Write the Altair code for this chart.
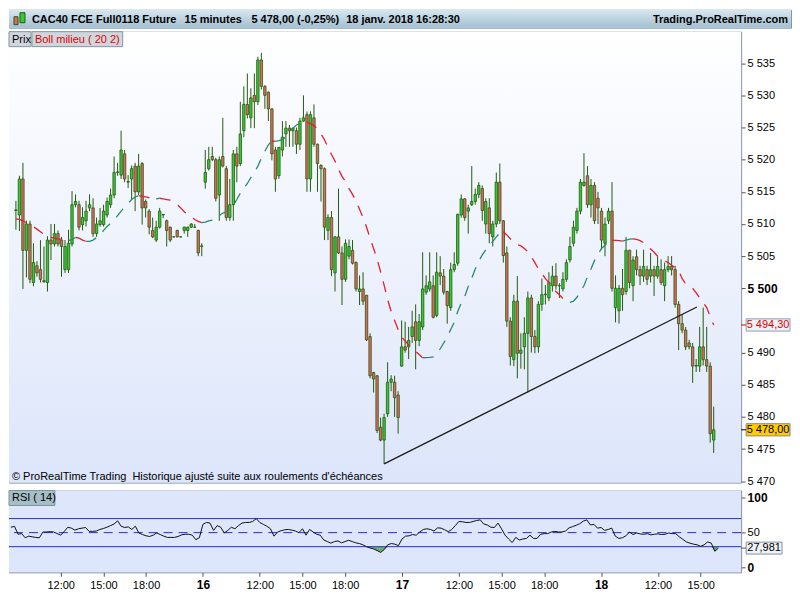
import altair as alt
import pandas as pd

# ---------------- data ----------------
opens = [
 5512.1,5511.4,5517.0,5505.9,5510.0,5500.9,5503.5,5502.9,5501.2,5500.9,
 5507.5,5506.9,5508.5,5507.5,5502.9,5502.9,5506.9,5513.0,5513.0,5509.9,
 5510.5,5512.5,5512.5,5508.5,5509.9,5509.9,5511.4,5513.0,5514.5,5518.0,
 5517.6,5520.9,5516.6,5517.0,5519.0,5515.0,5519.4,5513.5,5512.0,5509.0,
 5507.5,5509.5,5511.4,5510.5,5509.5,5508.0,5509.0,5508.0,5509.0,5509.0,
 5509.5,5509.5,5509.0,5506.5,
 5516.5,5518.6,5520.5,5520.0,5514.5,5520.5,5518.6,5511.0,5513.0,5520.9,
 5519.4,5524.5,5528.6,5526.5,5530.0,5529.0,5535.5,5531.4,5530.5,5527.9,
 5521.5,5517.5,5521.5,5524.0,5524.9,5524.5,5524.5,5522.4,5526.0,5527.0,
 5517.0,5526.5,5522.4,5519.1,5518.6,5509.0,5511.0,5502.4,5508.0,5505.5,
 5501.4,5505.0,5505.9,5504.0,5499.5,5499.9,5498.9,5492.5,5486.9,5486.4,
 5478.4,5476.4,5480.5,5485.4,5485.4,5483.4,
 5487.9,5490.9,5490.9,5492.5,5494.8,5491.9,5494.0,5499.4,5499.9,5500.4,
 5495.8,5502.4,5501.9,5499.5,5497.0,5502.9,5503.9,5511.4,5513.9,5512.0,
 5513.0,5513.5,5514.6,5515.5,5510.0,5512.5,5508.0,5510.0,5516.5,5510.5,
 5505.5,5494.9,5488.9,5498.0,5489.9,5490.9,5493.0,5498.5,5492.5,5490.9,
 5497.5,5499.0,5498.5,5500.4,5501.9,5500.4,5499.9,5501.4,5504.4,5507.0,
 5509.0,5512.0,5516.0,5517.5,5513.0,5516.0,
 5514.0,5512.0,5507.0,5510.5,5512.0,5497.0,5496.5,5500.0,5499.5,5505.9,
 5500.4,5504.9,5502.9,5501.9,5502.9,5501.9,5502.9,5501.9,5502.9,5500.4,
 5502.9,5503.4,5502.9,5497.5,5494.5,5493.5,5491.5,5490.9,5487.9,5487.9,
 5490.9,5488.9,5487.9,5476.4]
highs = [
 5513.6,5517.5,5519.5,5510.5,5510.5,5507.0,5504.2,5507.5,5506.5,5508.1,
 5510.0,5510.0,5509.0,5508.0,5507.5,5509.1,5515.1,5514.6,5513.6,5512.6,
 5513.6,5514.6,5514.0,5511.0,5512.5,5513.0,5514.1,5515.5,5520.5,5519.5,
 5524.5,5521.5,5517.6,5519.1,5519.5,5520.9,5519.6,5513.8,5512.3,5511.0,
 5510.5,5512.5,5511.5,5510.7,5509.6,5508.1,5509.1,5508.1,5509.6,5509.6,
 5510.1,5510.0,5509.1,5507.0,
 5521.5,5522.0,5522.0,5520.3,5520.5,5526.5,5519.0,5517.0,5521.5,5522.0,
 5529.0,5531.4,5533.4,5531.1,5533.4,5536.0,5536.6,5531.6,5530.6,5528.0,
 5522.0,5522.0,5526.0,5526.0,5525.4,5525.0,5525.0,5526.5,5530.0,5527.5,
 5527.5,5528.6,5522.5,5519.3,5518.8,5511.5,5512.0,5508.1,5515.5,5506.5,
 5507.6,5507.6,5507.5,5504.2,5502.0,5502.5,5499.0,5493.0,5487.0,5486.5,
 5479.9,5480.5,5488.5,5486.5,5486.4,5484.0,
 5495.0,5494.8,5494.0,5496.5,5497.5,5496.0,5505.6,5502.0,5505.6,5502.0,
 5505.6,5505.0,5503.0,5499.6,5504.0,5505.6,5511.6,5514.6,5514.0,5513.0,
 5519.0,5515.5,5516.5,5516.0,5514.0,5514.0,5510.5,5518.0,5519.4,5510.6,
 5506.5,5495.5,5499.0,5501.9,5493.0,5495.5,5499.5,5499.0,5493.5,5498.0,
 5501.5,5500.5,5502.5,5503.5,5503.9,5500.8,5502.5,5504.5,5508.0,5510.5,
 5512.5,5517.0,5521.0,5519.0,5517.0,5516.5,
 5515.0,5512.5,5511.0,5512.5,5516.5,5502.0,5500.5,5503.0,5508.0,5506.0,
 5505.0,5506.0,5503.5,5506.0,5503.5,5505.5,5503.5,5505.0,5504.5,5504.0,
 5505.0,5505.0,5503.5,5498.0,5496.0,5494.0,5492.0,5491.5,5489.0,5494.0,
 5497.0,5494.0,5488.5,5481.6]
lows = [
 5509.1,5508.9,5499.9,5501.7,5500.8,5500.3,5501.8,5500.9,5500.9,5499.5,
 5504.4,5506.5,5506.5,5501.8,5502.4,5502.4,5506.5,5512.6,5509.0,5509.0,
 5509.6,5512.0,5508.0,5508.0,5509.6,5509.6,5511.0,5512.5,5514.0,5517.5,
 5517.0,5516.5,5515.6,5513.8,5512.0,5514.5,5509.9,5511.0,5508.4,5507.8,
 5507.2,5509.3,5510.9,5506.5,5507.2,5507.9,5507.9,5507.9,5508.5,5508.0,
 5509.4,5509.4,5505.0,5505.0,
 5515.5,5518.3,5519.8,5513.5,5510.5,5518.8,5510.5,5510.5,5510.5,5516.5,
 5519.0,5523.5,5526.4,5524.9,5524.9,5528.5,5530.9,5527.9,5526.0,5519.9,
 5515.0,5517.0,5520.5,5522.0,5522.0,5522.0,5520.9,5521.5,5525.9,5515.0,
 5515.0,5522.0,5515.0,5513.5,5507.5,5507.5,5501.9,5499.5,5505.3,5497.4,
 5501.0,5504.5,5503.7,5499.5,5497.4,5497.4,5491.8,5486.0,5483.8,5477.5,
 5476.2,5472.7,5480.0,5484.0,5480.0,5477.4,
 5487.8,5490.0,5489.0,5491.5,5487.4,5491.0,5493.5,5499.0,5499.5,5495.3,
 5495.5,5500.5,5499.0,5494.5,5496.5,5502.5,5503.5,5511.0,5510.5,5508.5,
 5512.8,5513.0,5514.0,5510.5,5508.5,5507.0,5506.5,5509.5,5510.0,5504.0,
 5494.0,5488.0,5487.9,5486.0,5487.5,5487.4,5483.8,5490.0,5489.9,5490.0,
 5496.5,5497.5,5498.0,5499.5,5499.8,5498.5,5499.5,5501.0,5504.0,5506.5,
 5508.5,5511.5,5515.8,5512.5,5511.0,5510.0,
 5510.0,5506.0,5505.0,5510.0,5499.5,5494.7,5494.5,5496.5,5499.0,5500.0,
 5498.0,5502.0,5500.5,5501.0,5500.5,5500.9,5498.8,5501.5,5500.5,5498.0,
 5502.5,5502.0,5497.0,5490.4,5493.0,5490.4,5490.5,5485.3,5487.0,5487.0,
 5488.0,5487.0,5476.0,5474.4]
closes = [
 5512.2,5517.0,5505.9,5510.0,5501.4,5504.0,5502.4,5501.4,5501.0,5507.5,
 5506.9,5508.5,5506.9,5506.5,5506.5,5507.0,5513.0,5513.5,5509.5,5511.0,
 5512.0,5513.0,5508.5,5510.0,5510.5,5512.0,5513.5,5514.5,5518.0,5518.1,
 5521.5,5517.0,5516.5,5518.6,5515.0,5519.0,5512.5,5512.5,5509.5,5508.0,
 5509.5,5512.0,5511.5,5509.0,5507.5,5508.0,5508.0,5508.0,5509.5,5509.5,
 5510.0,5509.5,5505.5,5506.6,
 5518.0,5520.0,5520.0,5514.0,5520.0,5519.0,5511.0,5513.0,5520.9,5519.0,
 5524.0,5528.6,5527.0,5529.6,5529.0,5535.5,5531.4,5530.0,5527.9,5520.9,
 5517.0,5521.9,5523.5,5524.9,5524.5,5524.9,5522.4,5526.0,5526.5,5517.0,
 5527.0,5522.4,5519.4,5518.6,5509.5,5511.0,5502.9,5508.0,5505.5,5501.4,
 5507.0,5506.5,5503.9,5499.9,5499.9,5498.0,5492.0,5486.4,5485.9,5477.9,
 5476.4,5479.9,5485.4,5485.9,5483.0,5479.9,
 5490.9,5490.4,5491.9,5494.0,5491.9,5494.8,5499.9,5500.4,5501.0,5495.5,
 5502.5,5501.9,5499.4,5497.3,5502.9,5503.7,5511.5,5513.9,5511.0,5512.5,
 5513.5,5514.6,5516.0,5512.1,5513.5,5508.5,5510.0,5516.5,5510.5,5505.1,
 5494.9,5489.4,5498.0,5489.9,5490.4,5493.0,5498.5,5492.5,5490.9,5497.5,
 5499.0,5499.1,5500.9,5501.9,5500.4,5500.4,5501.4,5504.0,5506.5,5509.5,
 5512.0,5516.5,5516.5,5513.0,5516.0,5510.5,
 5512.5,5507.5,5510.0,5512.0,5500.0,5500.0,5500.0,5499.0,5505.9,5500.9,
 5504.4,5502.9,5501.9,5503.4,5501.4,5502.9,5501.9,5503.4,5500.9,5502.9,
 5503.4,5502.9,5497.5,5494.5,5493.5,5490.9,5490.9,5487.9,5488.0,5490.9,
 5488.9,5487.9,5477.4,5478.0]
boll_mid = [
 5510.8,5510.7,5510.5,5510.2,5509.9,5509.6,5509.2,5508.8,5508.4,5508.1,
 5507.9,5507.8,5507.7,5507.6,5507.5,5507.4,5507.6,5507.9,5507.8,5507.5,
 5507.3,5507.3,5507.5,5507.9,5508.3,5509.0,5509.6,5510.1,5510.6,5511.3,
 5512.0,5512.6,5513.2,5513.8,5514.2,5514.4,5514.3,5514.2,5514.1,5514.0,
 5513.9,5514.0,5513.9,5513.8,5513.7,5513.4,5513.0,5512.5,5511.9,5511.5,
 5511.1,5510.7,5510.4,5510.2,5510.3,5510.5,5510.6,5510.9,5511.3,5511.7,
 5511.9,5512.2,5512.9,5513.8,5514.8,5515.6,5516.3,5517.2,5518.0,5519.0,
 5520.2,5521.3,5522.3,5522.9,5522.85,5522.95,5523.1,5523.6,5524.2,5524.9,
 5525.4,5525.6,5525.8,5525.85,5525.6,5525.3,5524.8,5524.0,5523.1,5521.9,
 5520.8,5519.8,5518.5,5517.4,5516.6,5515.5,5514.6,5513.6,5512.3,5511.0,
 5509.5,5507.8,5506.2,5504.5,5502.6,5500.5,5498.3,5496.4,5495.0,5493.6,
 5492.4,5491.8,5491.2,5490.6,5490.2,5489.7,5489.2,5489.22,5489.25,5489.35,
 5489.8,5490.6,5491.5,5492.4,5493.6,5494.7,5496.4,5497.7,5498.7,5500.3,
 5501.6,5503.0,5504.2,5505.2,5506.0,5506.6,5507.3,5508.0,5508.6,5508.8,
 5508.3,5507.7,5507.3,5506.8,5506.6,5506.2,5505.7,5504.9,5504.0,5503.0,
 5502.3,5501.5,5500.9,5500.0,5499.5,5499.0,5498.4,5498.0,5497.8,5498.0,
 5498.6,5499.5,5500.4,5501.8,5503.0,5504.3,5505.3,5506.2,5506.7,5507.3,
 5507.5,5507.45,5507.4,5507.35,5507.5,5507.65,5507.7,5507.6,5507.4,5507.1,
 5506.6,5506.1,5505.6,5505.0,5504.6,5504.3,5504.0,5503.6,5503.2,5502.8,
 5501.5,5500.7,5500.3,5500.0,5499.3,5498.5,5497.8,5497.0,5495.6,5494.3]
rsi_vals = [
 57.7,59.0,47.7,48.6,42.7,45.0,44.0,43.2,42.7,50.9,
 50.9,51.4,50.9,48.6,46.4,51.8,57.7,56.4,53.6,55.5,
 56.4,57.3,51.8,51.8,52.3,54.5,55.9,57.7,60.0,62.3,
 66.8,59.1,57.3,58.2,54.5,59.1,49.5,47.3,45.5,44.5,
 46.4,49.5,47.3,45.0,43.2,43.2,43.2,44.5,46.8,47.7,
 47.7,46.4,40.0,42.7,61.8,64.5,63.6,53.2,60.0,57.7,
 49.5,53.2,57.7,55.5,60.0,63.6,64.5,64.5,65.9,70.0,
 64.5,61.8,59.1,55.5,45.0,50.9,52.7,54.1,54.5,53.6,
 52.3,50.0,55.5,46.4,54.5,50.9,47.7,46.4,39.5,37.3,
 35.0,37.3,38.2,35.5,37.3,39.1,37.3,35.5,34.5,32.7,
 30.0,28.2,26.8,24.5,21.8,25.9,32.7,34.5,33.6,31.4,
 40.9,45.0,45.5,47.3,46.4,50.9,54.5,55.5,54.5,52.3,
 56.8,56.4,54.1,51.4,54.5,60.0,65.9,65.5,64.5,64.5,
 65.9,67.3,68.2,62.3,60.9,57.7,57.3,63.6,55.5,46.4,
 40.9,35.9,43.2,39.5,40.9,41.8,46.4,41.8,41.8,47.7,
 48.6,48.6,50.9,51.8,50.9,50.9,52.3,56.8,58.6,60.5,
 62.7,66.4,68.2,60.9,61.8,56.4,57.3,53.2,54.5,56.4,
 45.0,41.8,42.7,45.5,50.9,47.3,49.5,48.2,47.7,48.6,
 46.8,47.7,48.2,47.3,47.7,49.5,48.6,48.6,44.1,40.5,
 36.8,35.0,33.6,32.7,30.5,32.7,36.8,35.0,23.5,27.981]

tick_idx = [14, 26, 38, 54, 70, 82, 94, 110, 126, 138, 150, 166, 182, 194]
tick_lbl = ["12:00", "15:00", "18:00", "16", "12:00", "15:00", "18:00", "17",
            "12:00", "15:00", "18:00", "18", "12:00", "15:00"]
day_idx = [54, 110, 166]
price_ticks = [5470, 5475, 5480, 5485, 5490, 5500, 5505, 5510, 5515, 5520,
               5525, 5530, 5535]
trend_idx = [105, 194.2]
trend_px = [5472.7, 5497.1]
rsi_levels = [70, 30]
rsi_mid = [50]
rsi_ticks = [0, 50, 100]
header_texts = ["CAC40 FCE Full0118 Future", "15 minutes", "5 478,00 (-0,25%)",
                "18 janv. 2018 16:28:30", "Trading.ProRealTime.com"]
panel_texts = ["Prix", "Boll milieu ( 20 2)", "RSI ( 14)"]
copyright = ("\u00a9 ProRealTime Trading\u00a0 Historique ajust\u00e9 suite aux "
             "roulements d'\u00e9ch\u00e9ances")

# ---------------- styling ----------------
FONT = "Liberation Sans"
GREEN = "#33cc33"
RED = "#e8655c"
OUTLINE = "#245a10"
BB_UP = "#2a8a70"
BB_DN = "#e3202b"
BLUE = "#2b2bd0"
W, PH, RH = 734, 452, 82
HW, HH = 784, 18

xs = alt.Scale(domain=[-0.55, 205.4], nice=False, zero=False)
ys = alt.Scale(domain=[5469.8, 5539.9], nice=False, zero=False)
rs = alt.Scale(domain=[-6.5, 110], nice=False, zero=False)


def txt(s, x, y, size=11, color="black", weight="normal", align="left"):
    return alt.Chart(pd.DataFrame({"t": [s]})).mark_text(
        align=align, baseline="middle", fontSize=size, color=color,
        fontWeight=weight, font=FONT).encode(
        x=alt.value(x), y=alt.value(y), text="t:N")


def box(x1, x2, y1, y2, fill, stroke=None):
    kw = {"fill": fill}
    if stroke is not None:
        kw.update(stroke=stroke, strokeWidth=1)
    else:
        kw.update(strokeWidth=0)
    return alt.Chart(pd.DataFrame({"a": [0]})).mark_rect(**kw).encode(
        x=alt.value(x1), x2=alt.value(x2), y=alt.value(y1), y2=alt.value(y2))


def vgrad(c0, c1):
    return alt.LinearGradient(
        gradient="linear", x1=0, y1=0, x2=0, y2=1,
        stops=[alt.GradientStop(offset=0, color=c0),
               alt.GradientStop(offset=1, color=c1)])


# ---------------- header ----------------
header = alt.layer(
    box(0, HW, 0, HH, vgrad("#d8e7f0", "#a3c0d1")),
    box(5, 9, 7, 15, RED, OUTLINE),
    box(11, 16, 3, 13, GREEN, OUTLINE),
    txt(header_texts[0], 23, 10, 11, weight="bold"),
    txt(header_texts[1], 176, 10, 11, weight="bold"),
    txt(header_texts[2], 243, 10, 11, weight="bold"),
    txt(header_texts[3], 338, 10, 11, weight="bold"),
    txt(header_texts[4], 781, 10, 11, weight="bold", align="right"),
).properties(width=HW, height=HH,
             view=alt.ViewBackground(stroke="#7e98a8"))

# ---------------- price panel ----------------
cdf = pd.DataFrame({"i": list(range(len(closes))), "open": opens, "high": highs,
                    "low": lows, "close": closes})

price_axis = alt.Axis(
    orient="right", values=price_ticks,
    labelExpr="replace(format(datum.value, ','), ',', ' ')",
    labelFontWeight={"condition": {"test": "datum.value == 5500", "value": "bold"},
                     "value": "normal"},
    labelFontSize={"condition": {"test": "datum.value == 5500", "value": 12},
                   "value": 11},
    tickSize=4, tickColor="#555555", domain=False, grid=False,
    labelFont=FONT, labelColor="black", labelPadding=2)


def PY(field, **kw):
    return alt.Y(field, axis=price_axis, title=None, **kw)


def PX(field, **kw):
    return alt.X(field, axis=None, title=None, **kw)


wicks = alt.Chart(cdf).mark_rule(color=OUTLINE, strokeWidth=1).encode(
    x=PX("i:Q", scale=xs),
    y=PY("low:Q", scale=ys),
    y2="high:Q")

bodies = alt.Chart(cdf).mark_bar(size=2.4, stroke=OUTLINE, strokeWidth=0.8).encode(
    x=PX("i:Q"),
    y=PY("open:Q"),
    y2="close:Q",
    fill=alt.condition("datum.close >= datum.open", alt.value(GREEN), alt.value(RED)))

# Bollinger middle band split into rising / falling runs
rows = []
run, prev = 0, None
for k in range(len(boll_mid) - 1):
    d = "up" if boll_mid[k + 1] >= boll_mid[k] else "down"
    if d != prev:
        run += 1
        prev = d
    rows.append({"i": k, "v": boll_mid[k], "run": run, "dir": d})
    rows.append({"i": k + 1, "v": boll_mid[k + 1], "run": run, "dir": d})
bbdf = pd.DataFrame(rows).drop_duplicates(["run", "i"])

bb = alt.Chart(bbdf).mark_line(strokeWidth=1.3, strokeDash=[11, 9]).encode(
    x=PX("i:Q"),
    y=PY("v:Q"),
    color=alt.Color("dir:N", scale=alt.Scale(domain=["up", "down"], range=[BB_UP, BB_DN]),
                    legend=None),
    detail="run:N",
    order="i:Q")

trend = alt.Chart(pd.DataFrame({"i": trend_idx, "p": trend_px})).mark_line(
    color="#1a1a1a", strokeWidth=1.2).encode(x=PX("i:Q"), y=PY("p:Q"))


def value_box(val, fmt, fill, stroke, tcolor, x1, x2, half, tick_color, YF):
    d = alt.Chart(pd.DataFrame({"v": [val]})).transform_calculate(
        lo=f"datum.v - {half}", hi=f"datum.v + {half}", lab=fmt)
    r = d.mark_rect(fill=fill, stroke=stroke, strokeWidth=1).encode(
        x=alt.value(x1), x2=alt.value(x2), y=YF("lo:Q"), y2="hi:Q")
    t = d.mark_text(align="center", baseline="middle", fontSize=11, font=FONT,
                    color=tcolor).encode(
        x=alt.value((x1 + x2) / 2), y=YF("v:Q"), text="lab:N")
    tk = d.mark_rule(color=tick_color, strokeWidth=1).encode(
        x=alt.value(x1 - 5), x2=alt.value(x1), y=YF("v:Q"))
    return [r, t, tk]


price_fmt = "replace(replace(format(datum.v, ',.2f'), ',', ' '), '.', ',')"
bb_box = value_box(boll_mid[-1], price_fmt, "#eef2f7", "#8aa0b4", "#e00000",
                   739, 783, 0.95, "#e00000", PY)
cl_box = value_box(closes[-1], price_fmt, "#ffcc00", "#8a8a8a", "black",
                   739, 783, 0.95, "black", PY)

price = alt.layer(
    box(0, W, 0, PH, vgrad("#ffffff", "#dce5fa")),
    wicks, bodies, bb, trend,
    box(0, 22, 0, 15, "#cfd7de", "#8496a5"),
    box(23, 114, 0, 15, "#cfd7de", "#8496a5"),
    txt(panel_texts[0], 3, 8, 11),
    txt(panel_texts[1], 26, 8, 11, color="#e00000"),
    txt(copyright, 3, 446, 11),
    *bb_box, *cl_box,
).properties(width=W, height=PH,
             view=alt.ViewBackground(stroke="#75889a"))

# ---------------- RSI panel ----------------
rdf = pd.DataFrame({"i": list(range(len(rsi_vals))), "rsi": rsi_vals})

lbl_expr = ("[" + ",".join(f"'{t}'" for t in tick_lbl) + "][indexof([" +
            ",".join(str(v) for v in tick_idx) + "], datum.value)]")
bold_test = "indexof([" + ",".join(str(v) for v in day_idx) + "], datum.value) >= 0"

x_axis = alt.Axis(values=tick_idx, labelExpr=lbl_expr,
                  labelFontWeight={"condition": {"test": bold_test, "value": "bold"},
                                   "value": "normal"},
                  labelFontSize={"condition": {"test": bold_test, "value": 12},
                                 "value": 11},
                  tickSize=4, tickColor="#555555", domain=False, grid=False,
                  labelFont=FONT, labelColor="black", labelPadding=3,
                  labelOverlap=False, labelFlush=False)
r_axis = alt.Axis(orient="right", values=rsi_ticks,
                  labelFontWeight={"condition": {"test": "datum.value != 50", "value": "bold"},
                                   "value": "normal"},
                  labelFontSize={"condition": {"test": "datum.value != 50", "value": 12},
                                 "value": 11},
                  tickSize=4, tickColor="#555555", domain=False, grid=False,
                  labelFont=FONT, labelColor="black", labelPadding=2)


def RY(field, **kw):
    return alt.Y(field, axis=r_axis, title=None, **kw)


def RX(field, **kw):
    return alt.X(field, axis=x_axis, title=None, **kw)


low_fill = alt.Chart(rdf).transform_calculate(
    lo=f"min(datum.rsi, {rsi_levels[1]})").mark_area(color="#6cae6c").encode(
    x=RX("i:Q", scale=xs),
    y=RY("lo:Q", scale=rs),
    y2=alt.datum(rsi_levels[1]))

lvl = alt.Chart(pd.DataFrame({"l": rsi_levels})).mark_rule(
    color=BLUE, strokeWidth=1).encode(y=RY("l:Q"))
mid = alt.Chart(pd.DataFrame({"l": rsi_mid})).mark_rule(
    color=BLUE, strokeWidth=1, strokeDash=[9, 6]).encode(y=RY("l:Q"))

rsi_line = alt.Chart(rdf).mark_line(color="#111111", strokeWidth=1).encode(
    x=RX("i:Q"), y=RY("rsi:Q"))

rsi_fmt = "replace(format(datum.v, '.3f'), '.', ',')"
rsi_box = value_box(rsi_vals[-1], rsi_fmt, "#eef2f8", "#7f93a5", "black",
                    739, 775, 8.5, "#555555", RY)

rsi = alt.layer(
    box(0, W, 0, RH, "#dde6fb"),
    low_fill, lvl, mid, rsi_line,
    box(0, 46, 0, 15, "#a6bfc6", "#7b95a0"),
    txt(panel_texts[2], 3, 8, 11),
    *rsi_box,
).properties(width=W, height=RH,
             view=alt.ViewBackground(stroke="#75889a"))

chart = alt.vconcat(header, price, rsi, spacing=2).properties(
    padding=0, background="white").configure(font=FONT)

chart.save("out.html", embed_options={"renderer": "svg", "actions": False})
